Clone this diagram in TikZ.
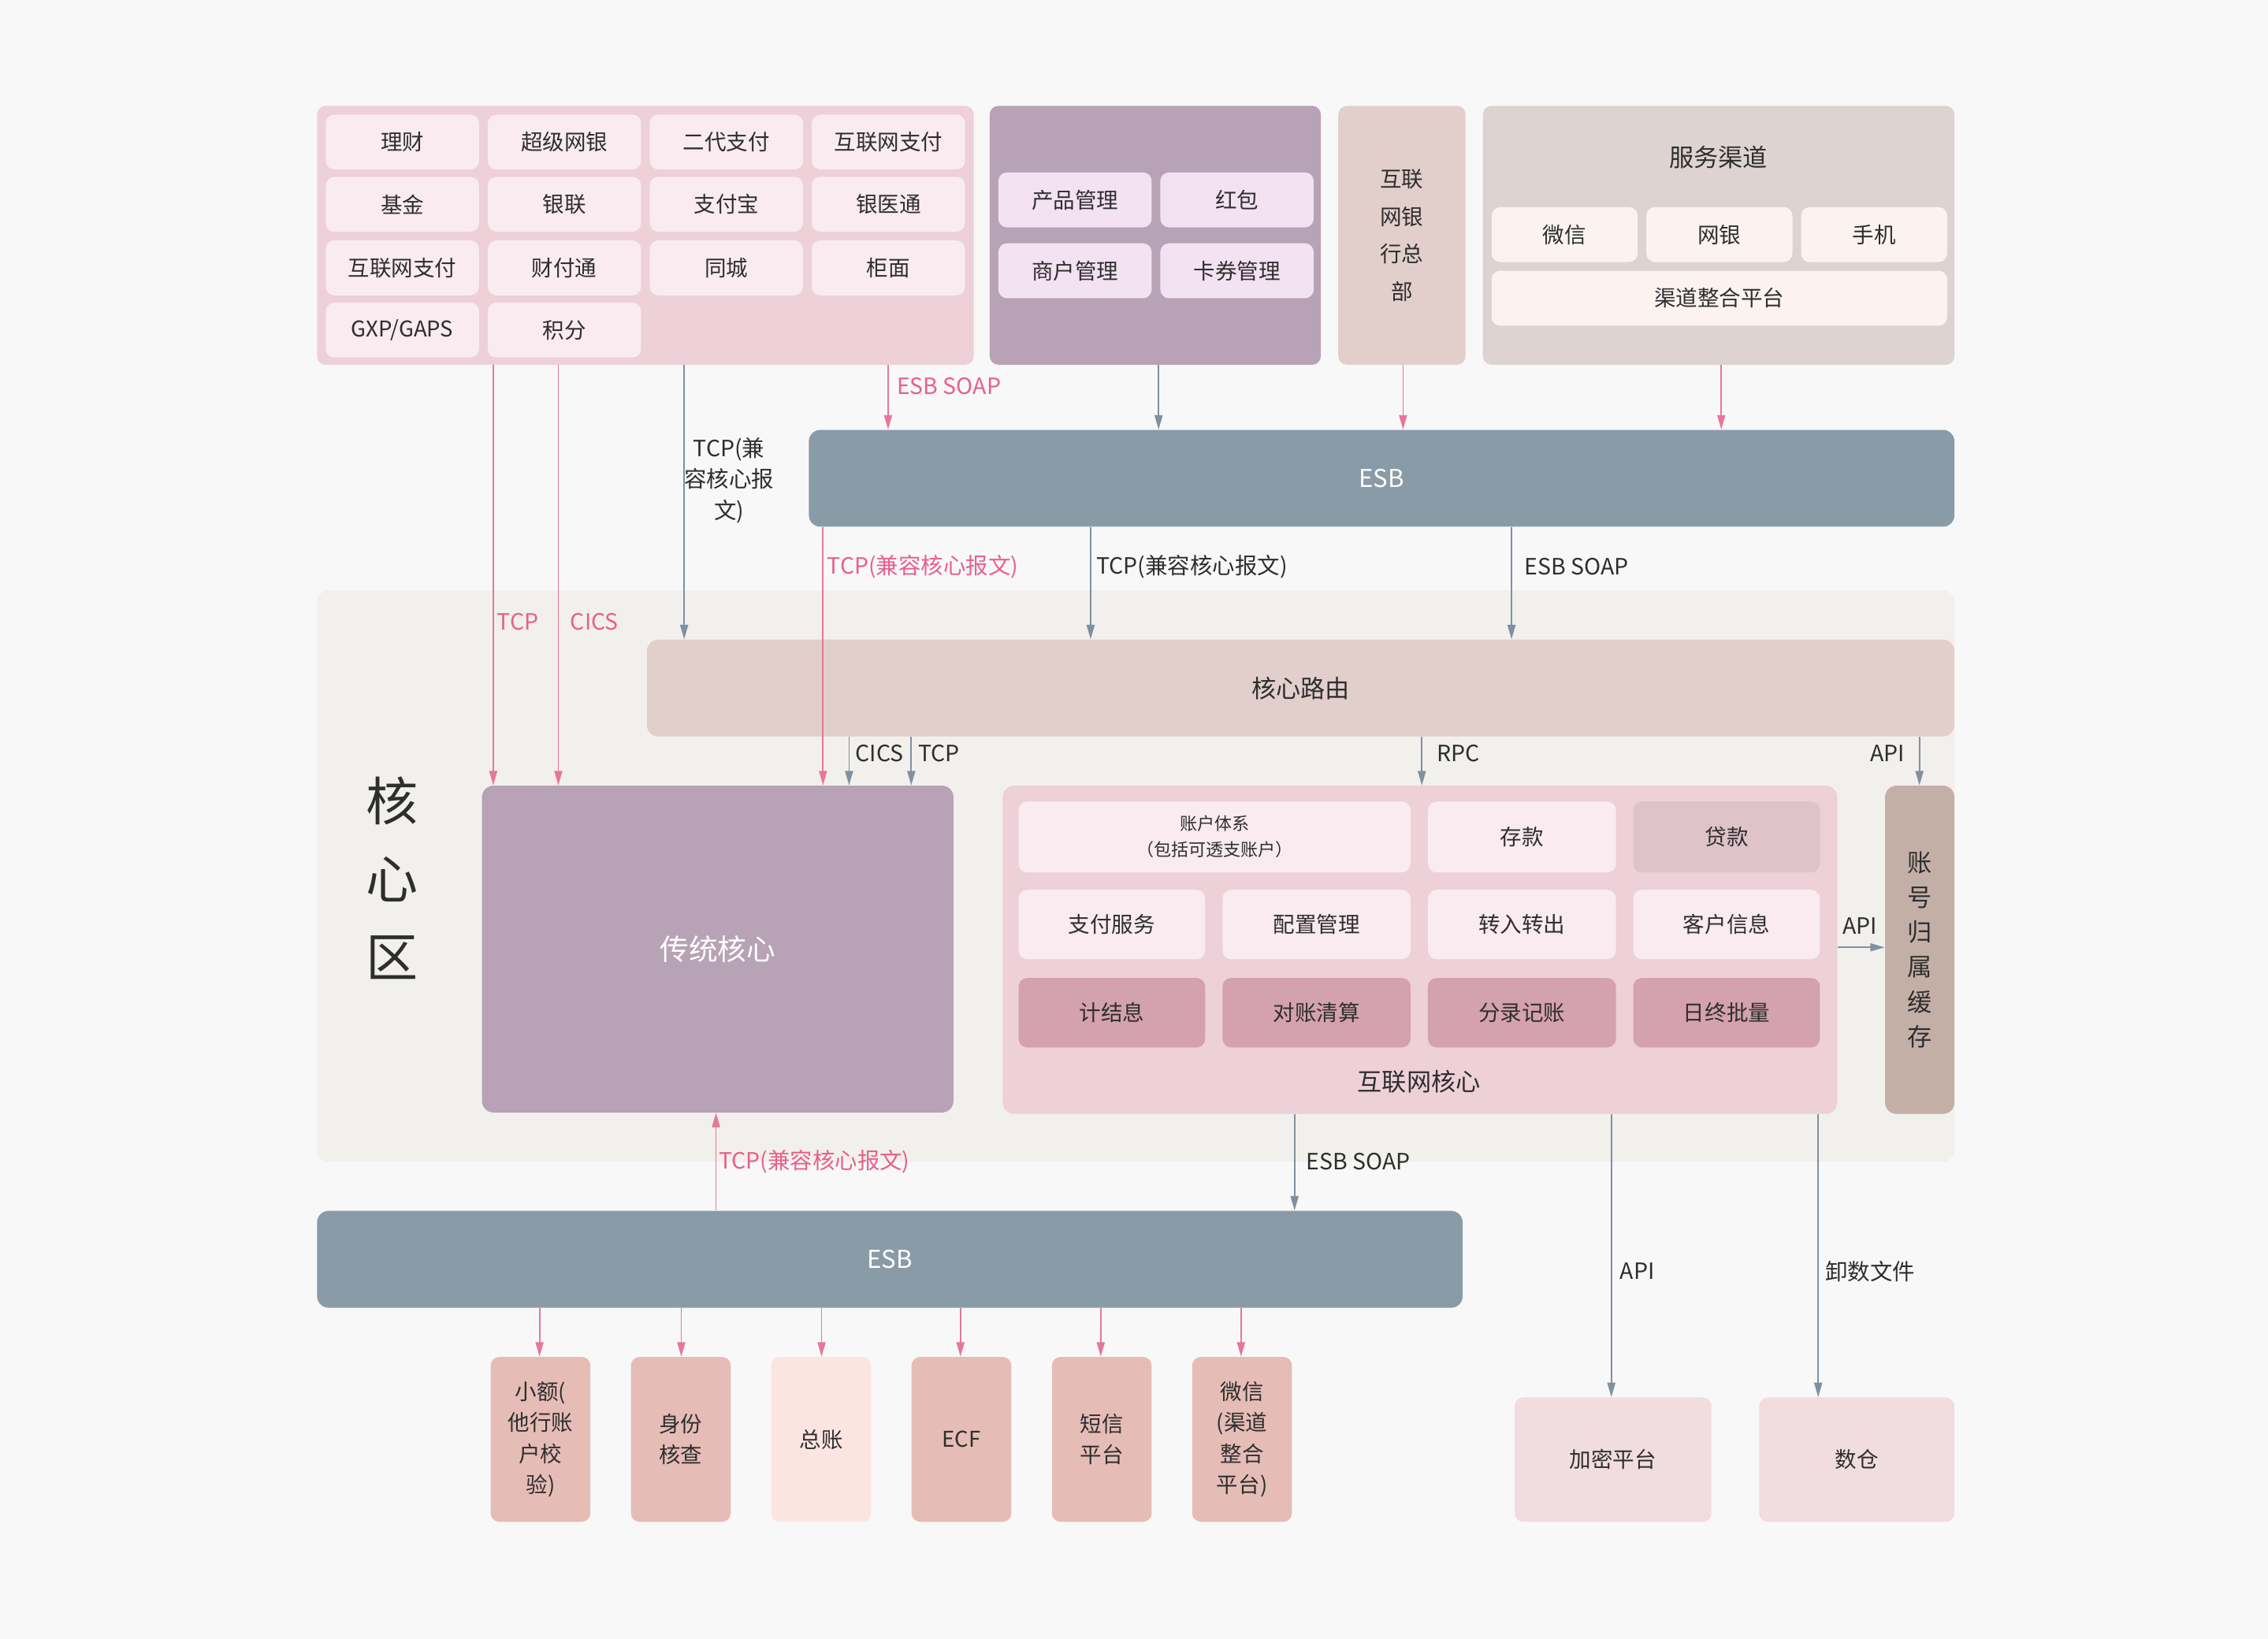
\documentclass[tikz,border=0pt]{standalone}
\usepackage{fontspec}
\setmainfont{Noto Sans CJK SC}
\usetikzlibrary{arrows.meta}
\definecolor{bgc}{HTML}{F8F8F9}
\definecolor{pinkp}{HTML}{EDD0D8}
\definecolor{pinkc}{HTML}{F9EBEF}
\definecolor{purp}{HTML}{B8A2B5}
\definecolor{purc}{HTML}{F3E2F2}
\definecolor{rosep}{HTML}{E2CFCC}
\definecolor{grayp}{HTML}{DDD3D1}
\definecolor{grayc}{HTML}{FCF3F1}
\definecolor{esbc}{HTML}{8A9BA8}
\definecolor{corebg}{HTML}{F2F0EC}
\definecolor{loanc}{HTML}{DFC3CA}
\definecolor{darkc}{HTML}{D4A1AE}
\definecolor{cachec}{HTML}{C4AFA6}
\definecolor{salm}{HTML}{E5BDB6}
\definecolor{salml}{HTML}{FCE5E1}
\definecolor{extc}{HTML}{F1DCDF}
\definecolor{txt}{HTML}{2E2E2E}
\definecolor{pline}{HTML}{E5789A}
\definecolor{ptxt}{HTML}{E8608A}
\definecolor{gline}{HTML}{7E91A1}
\newcommand{\Bx}[6]{\node[blk,#1,minimum width=#4pt,minimum height=#5pt] (#2) at (#3) {#6};}
\begin{document}
\begin{tikzpicture}[x=1pt,y=-1pt,
  blk/.style={rounded corners=6pt, anchor=north west, inner sep=0pt, align=center,
    font=\fontsize{15}{22}\selectfont, text=txt},
  lab/.style={inner sep=0pt, font=\fontsize{15.5}{21.5}\selectfont, text=txt, align=center},
  plab/.style={lab, text=ptxt},
  pa/.style={draw=pline, line width=1pt, -{Triangle[length=10pt,width=5.5pt]}},
  ga/.style={draw=gline, line width=1pt, -{Triangle[length=10pt,width=5.5pt]}}]
\fill[bgc] (0,0) rectangle (1568,1133);
\useasboundingbox (0,0) rectangle (1568,1133);
\foreach \x in {341,386,473,614,801,970,1190,569,754,1045,587,630,983,1327,495,895,1114,1257,373,471,568,664,761,858}
  \coordinate (c\x) at (\x,0);
\coordinate (r655) at (0,655);
% top-left panel
\Bx{fill=pinkp}{tl}{219,73}{454}{179}{}
\Bx{fill=pinkc}{a1}{225,79}{106}{38}{理财}
\Bx{fill=pinkc}{a2}{337,79}{106}{38}{超级网银}
\Bx{fill=pinkc}{a3}{449,79}{106}{38}{二代支付}
\Bx{fill=pinkc}{a4}{561,79}{106}{38}{互联网支付}
\Bx{fill=pinkc}{b1}{225,122}{106}{38}{基金}
\Bx{fill=pinkc}{b2}{337,122}{106}{38}{银联}
\Bx{fill=pinkc}{b3}{449,122}{106}{38}{支付宝}
\Bx{fill=pinkc}{b4}{561,122}{106}{38}{银医通}
\Bx{fill=pinkc}{d1}{225,166}{106}{38}{互联网支付}
\Bx{fill=pinkc}{d2}{337,166}{106}{38}{财付通}
\Bx{fill=pinkc}{d3}{449,166}{106}{38}{同城}
\Bx{fill=pinkc}{d4}{561,166}{106}{38}{柜面}
\Bx{fill=pinkc}{e1}{225,209}{106}{38}{GXP/GAPS}
\Bx{fill=pinkc}{e2}{337,209}{106}{38}{积分}
% purple panel
\Bx{fill=purp}{pp}{684,73}{229}{179}{}
\Bx{fill=purc}{p1}{690,119}{106}{38}{产品管理}
\Bx{fill=purc}{p2}{802,119}{106}{38}{红包}
\Bx{fill=purc}{p3}{690,168}{106}{38}{商户管理}
\Bx{fill=purc}{p4}{802,168}{106}{38}{卡券管理}
% internet bank HQ
\Bx{fill=rosep,font=\fontsize{15}{26}\selectfont}{hq}{925,73}{88}{179}{互联\\网银\\行总\\部}
% service channel
\Bx{fill=grayp}{sc}{1025,73}{326}{179}{}
\node[lab,font=\fontsize{17}{20}\selectfont] (sct) at (1188,109) {服务渠道};
\Bx{fill=grayc}{s1}{1031,143}{101}{38}{微信}
\Bx{fill=grayc}{s2}{1138,143}{101}{38}{网银}
\Bx{fill=grayc}{s3}{1245,143}{101}{38}{手机}
\Bx{fill=grayc}{s4}{1031,187}{315}{38}{渠道整合平台}
% top ESB
\Bx{fill=esbc,rounded corners=8pt,text=white,font=\fontsize{17}{20}\selectfont}{esb1}{559,297}{792}{67}{ESB}
% core area
\Bx{fill=corebg,rounded corners=8pt}{core}{219,408}{1132}{395}{}
\node[inner sep=0pt, align=center, text=txt, font=\fontsize{36}{54}\selectfont] (corel) at (271,607) {核\\心\\区};
\Bx{fill=rosep,rounded corners=8pt,font=\fontsize{17}{20}\selectfont}{route}{447,442}{904}{67}{核心路由}
\Bx{fill=purp,rounded corners=8pt,text=white,font=\fontsize{20}{24}\selectfont}{trad}{333,543}{326}{226}{传统核心}
\Bx{fill=pinkp,rounded corners=8pt}{inet}{693,543}{577}{227}{}
\node[lab,font=\fontsize{17}{20}\selectfont] (inetl) at (981,748) {互联网核心};
\Bx{fill=pinkc,font=\fontsize{12}{18}\selectfont}{i1}{704,554}{271}{49}{账户体系\\（包括可透支账户）}
\Bx{fill=pinkc}{i2}{987,554}{130}{49}{存款}
\Bx{fill=loanc}{i3}{1129,554}{129}{49}{贷款}
\Bx{fill=pinkc}{j1}{704,615}{129}{48}{支付服务}
\Bx{fill=pinkc}{j2}{845,615}{130}{48}{配置管理}
\Bx{fill=pinkc}{j3}{987,615}{130}{48}{转入转出}
\Bx{fill=pinkc}{j4}{1129,615}{129}{48}{客户信息}
\Bx{fill=darkc}{k1}{704,676}{129}{48}{计结息}
\Bx{fill=darkc}{k2}{845,676}{130}{48}{对账清算}
\Bx{fill=darkc}{k3}{987,676}{130}{48}{分录记账}
\Bx{fill=darkc}{k4}{1129,676}{129}{48}{日终批量}
\Bx{fill=cachec,rounded corners=8pt,font=\fontsize{17}{24}\selectfont}{cache}{1303,543}{48}{227}{账\\号\\归\\属\\缓\\存}
% bottom ESB
\Bx{fill=esbc,rounded corners=8pt,text=white,font=\fontsize{17}{20}\selectfont}{esb2}{219,837}{792}{67}{ESB}
% bottom systems
\Bx{fill=salm,font=\fontsize{15}{21.5}\selectfont}{x1}{339,938}{69}{114}{小额(\\他行账\\户校\\验)}
\Bx{fill=salm,font=\fontsize{15}{21.5}\selectfont}{x2}{436,938}{69}{114}{身份\\核查}
\Bx{fill=salml}{x3}{533,938}{69}{114}{总账}
\Bx{fill=salm}{x4}{630,938}{69}{114}{ECF}
\Bx{fill=salm,font=\fontsize{15}{21.5}\selectfont}{x5}{727,938}{69}{114}{短信\\平台}
\Bx{fill=salm,font=\fontsize{15}{21.5}\selectfont}{x6}{824,938}{69}{114}{微信\\(渠道\\整合\\平台)}
\Bx{fill=extc}{enc}{1047,966}{136}{86}{加密平台}
\Bx{fill=extc}{dw}{1216,966}{135}{86}{数仓}
% connectors
\draw[pa] (tl.south -| c341) -- (trad.north -| c341);
\draw[pa] (tl.south -| c386) -- (trad.north -| c386);
\draw[ga] (tl.south -| c473) -- (route.north -| c473);
\draw[pa] (tl.south -| c614) -- (esb1.north -| c614);
\draw[ga] (pp.south -| c801) -- (esb1.north -| c801);
\draw[pa] (hq.south -| c970) -- (esb1.north -| c970);
\draw[pa] (sc.south -| c1190) -- (esb1.north -| c1190);
\draw[pa] (esb1.south -| c569) -- (trad.north -| c569);
\draw[ga] (esb1.south -| c754) -- (route.north -| c754);
\draw[ga] (esb1.south -| c1045) -- (route.north -| c1045);
\draw[ga] (route.south -| c587) -- (trad.north -| c587);
\draw[ga] (route.south -| c630) -- (trad.north -| c630);
\draw[ga] (route.south -| c983) -- (inet.north -| c983);
\draw[ga] (route.south -| c1327) -- (cache.north -| c1327);
\draw[ga] (inet.east |- r655) -- (cache.west |- r655);
\draw[pa] (esb2.north -| c495) -- (trad.south -| c495);
\draw[ga] (inet.south -| c895) -- (esb2.north -| c895);
\draw[ga] (inet.south -| c1114) -- (enc.north -| c1114);
\draw[ga] (inet.south -| c1257) -- (dw.north -| c1257);
\foreach \x/\b in {373/x1,471/x2,568/x3,664/x4,761/x5,858/x6}
  \draw[pa] (esb2.south -| c\x) -- (\b.north -| c\x);
% labels
\node[plab] (l1) at (358,430) {TCP};
\node[plab] (l2) at (411,430) {CICS};
\node[lab] (l3) at (504,332) {TCP(兼\\容核心报\\文)};
\node[plab] (l4) at (656,267) {ESB SOAP};
\node[plab] (l5) at (638,392) {TCP(兼容核心报文)};
\node[lab] (l6) at (824,392) {TCP(兼容核心报文)};
\node[lab] (l7) at (1090,392) {ESB SOAP};
\node[lab] (l8) at (608,521) {CICS};
\node[lab] (l9) at (649,521) {TCP};
\node[lab] (l10) at (1008,521) {RPC};
\node[lab] (l11) at (1305,521) {API};
\node[lab] (l12) at (1286,640) {API};
\node[plab] (l13) at (563,803) {TCP(兼容核心报文)};
\node[lab] (l14) at (939,803) {ESB SOAP};
\node[lab] (l15) at (1132,879) {API};
\node[lab] (l16) at (1293,879) {卸数文件};
\end{tikzpicture}
\end{document}
